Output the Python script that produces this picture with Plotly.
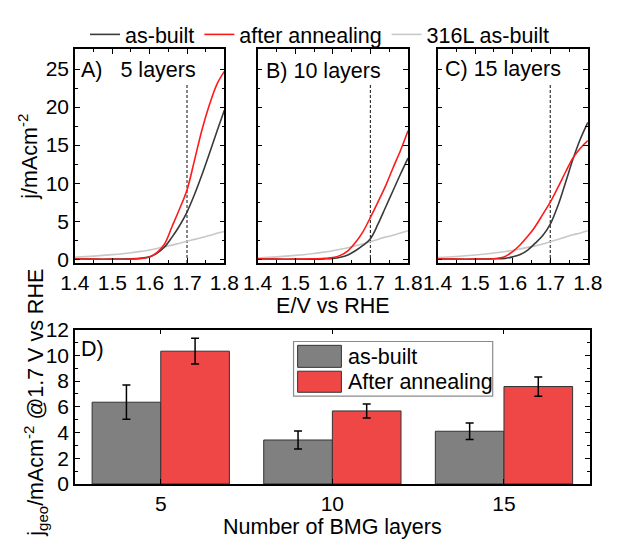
import plotly.graph_objects as go

# ---------------- data ----------------
V = [1.40, 1.45, 1.50, 1.55, 1.58, 1.60, 1.62, 1.64, 1.66, 1.68, 1.70, 1.72, 1.74, 1.76, 1.78, 1.80]

A_asbuilt = [0.05, 0.0, 0.0, 0.05, 0.15, 0.3, 0.8, 1.6, 2.9, 4.4, 6.2, 8.5, 11.1, 13.9, 16.8, 19.6]
A_anneal  = [0.05, 0.0, 0.0, 0.0, 0.1, 0.3, 0.9, 2.0, 4.3, 6.6, 9.1, 13.0, 17.0, 20.3, 23.0, 24.7]
A_316L    = [0.25, 0.4, 0.6, 0.85, 1.05, 1.2, 1.4, 1.65, 1.85, 2.1, 2.35, 2.6, 2.85, 3.1, 3.4, 3.65]

B_asbuilt = [0.05, 0.0, 0.0, 0.0, 0.05, 0.1, 0.25, 0.55, 1.1, 1.8, 2.7, 4.6, 6.8, 9.0, 11.2, 13.3]
B_anneal  = [0.05, 0.0, 0.0, 0.05, 0.1, 0.2, 0.5, 1.1, 2.2, 3.6, 5.5, 7.5, 9.6, 12.0, 14.3, 16.9]
B_316L    = [0.15, 0.3, 0.5, 0.75, 0.95, 1.1, 1.3, 1.5, 1.75, 2.0, 2.3, 2.6, 2.9, 3.15, 3.45, 3.75]

C_asbuilt = [0.05, 0.0, 0.0, 0.05, 0.1, 0.3, 0.6, 1.2, 2.1, 3.1, 4.6, 7.0, 10.0, 13.1, 15.8, 18.0]
C_anneal  = [0.05, 0.0, 0.0, 0.05, 0.35, 1.0, 1.9, 3.0, 4.3, 5.9, 7.5, 9.4, 11.4, 13.3, 14.6, 15.6]
C_316L    = [0.2, 0.35, 0.55, 0.8, 1.0, 1.15, 1.35, 1.55, 1.75, 2.0, 2.3, 2.6, 2.9, 3.2, 3.45, 3.75]

panel_labels = ["A)&nbsp;&nbsp; 5 layers", "B) 10 layers", "C) 15 layers"]
ref_V = 1.7
ref_line_top = 23

layers = [5, 10, 15]
bar_asbuilt = [6.36, 3.42, 4.1]
bar_asbuilt_err = [1.33, 0.7, 0.65]
bar_anneal = [10.33, 5.68, 7.58]
bar_anneal_err = [1.0, 0.55, 0.75]

# ---------------- style ----------------
FONT = "Liberation Sans, Arial, sans-serif"
FS = 21.5    # titles / legend / labels
TFS = 21     # tick labels
W, H = 620, 546
BLACK_C = "#3a3a3a"
RED_C = "#ff1a1a"
GRAY_C = "#c8c8c8"
BAR_GRAY = "#808080"
BAR_RED = "#ef4646"

def px_x(p):
    return p / W

def px_y(p):
    return 1 - p / H

fig = go.Figure()

panels = [(A_asbuilt, A_anneal, A_316L), (B_asbuilt, B_anneal, B_316L), (C_asbuilt, C_anneal, C_316L)]
for i, (ab, an, ss) in enumerate(panels):
    xa = "x" if i == 0 else f"x{i+1}"
    ya = "y" if i == 0 else f"y{i+1}"
    fig.add_trace(go.Scatter(x=[ref_V, ref_V], y=[-0.5, ref_line_top], mode="lines",
                             line=dict(color="#333333", width=1.2, dash="3px,2px"),
                             showlegend=False, xaxis=xa, yaxis=ya, hoverinfo="skip"))
    fig.add_trace(go.Scatter(x=V, y=ss, mode="lines", line=dict(color=GRAY_C, width=1.6, shape="spline"),
                             name="316L as-built", showlegend=(i == 0), legendrank=3, xaxis=xa, yaxis=ya))
    fig.add_trace(go.Scatter(x=V, y=ab, mode="lines", line=dict(color=BLACK_C, width=1.6, shape="spline"),
                             name="as-built", showlegend=(i == 0), legendrank=1, xaxis=xa, yaxis=ya))
    fig.add_trace(go.Scatter(x=V, y=an, mode="lines", line=dict(color=RED_C, width=1.6, shape="spline"),
                             name="after annealing", showlegend=(i == 0), legendrank=2, xaxis=xa, yaxis=ya))

# bars
fig.add_trace(go.Bar(x=layers, y=bar_asbuilt, width=2, offset=-2, marker=dict(color=BAR_GRAY, line=dict(color="#333333", width=1)),
                     error_y=dict(type="data", array=bar_asbuilt_err, color="black", thickness=1.5, width=4),
                     name="as-built", showlegend=False, xaxis="x4", yaxis="y4"))
fig.add_trace(go.Bar(x=layers, y=bar_anneal, width=2, offset=0, marker=dict(color=BAR_RED, line=dict(color="#333333", width=1)),
                     error_y=dict(type="data", array=bar_anneal_err, color="black", thickness=1.5, width=4),
                     name="After annealing", showlegend=False, xaxis="x4", yaxis="y4"))

common_axis = dict(showline=True, linecolor="black", linewidth=1.5, mirror="allticks",
                   ticks="inside", ticklen=5, tickwidth=1.2, tickcolor="black",
                   showgrid=False, zeroline=False,
                   tickfont=dict(family=FONT, size=TFS, color="black"))

top_dom_y = [px_y(262), px_y(39)]
x_doms = [[px_x(63), px_x(220)], [px_x(255), px_x(413)], [px_x(444), px_x(602)]]
layout = dict(
    width=W, height=H, margin=dict(l=0, r=0, t=0, b=0),
    paper_bgcolor="white", plot_bgcolor="white",
    font=dict(family=FONT, size=FS, color="black"),
    barmode="overlay",
    legend=dict(orientation="h", x=px_x(320), xanchor="center", y=px_y(2), yanchor="top",
                font=dict(family=FONT, size=FS), itemwidth=30, bgcolor="rgba(0,0,0,0)",
                tracegroupgap=0, traceorder="normal"),
)
for i in range(3):
    xk = "xaxis" if i == 0 else f"xaxis{i+1}"
    yk = "yaxis" if i == 0 else f"yaxis{i+1}"
    ya = "y" if i == 0 else f"y{i+1}"
    xa = "x" if i == 0 else f"x{i+1}"
    layout[xk] = dict(common_axis, domain=x_doms[i], range=[1.4, 1.8], tickvals=[1.4, 1.5, 1.6, 1.7, 1.8],
                      ticktext=["1.4", "1.5", "1.6", "1.7", "1.8"],
                      minor=dict(dtick=0.05, tick0=1.4, ticks="inside", ticklen=3, tickcolor="black"),
                      anchor=ya)
    layout[yk] = dict(common_axis, domain=top_dom_y, range=[-0.5, 27.6], dtick=5, tick0=0,
                      showticklabels=(i == 0),
                      minor=dict(dtick=2.5, tick0=0, ticks="inside", ticklen=3, tickcolor="black"),
                      anchor=xa)
layout["yaxis"]["title"] = dict(text="j/mAcm<sup>-2</sup>", font=dict(family=FONT, size=FS), standoff=2)
layout["xaxis2"]["title"] = dict(text="E/V vs RHE", font=dict(family=FONT, size=FS), standoff=2)

layout["xaxis4"] = dict(common_axis, domain=[px_x(63), px_x(604)], range=[2.5, 17.5],
                        tickvals=layers, ticktext=[str(v) for v in layers], anchor="y4",
                        title=dict(text="Number of BMG layers", font=dict(family=FONT, size=FS), standoff=2))
layout["yaxis4"] = dict(common_axis, domain=[px_y(492.7), px_y(331.7)], range=[0, 12], dtick=2,
                        minor=dict(dtick=1, ticks="inside", ticklen=3, tickcolor="black"), anchor="x4")
fig.update_layout(**layout)

# panel labels
ann_pos = [(67, 61), (262, 62), (450, 59)]
for (xp, yp), t in zip(ann_pos, panel_labels):
    fig.add_annotation(x=px_x(xp), y=px_y(yp), xref="paper", yref="paper", text=t, showarrow=False,
                       xanchor="left", yanchor="middle", font=dict(family=FONT, size=FS))
fig.add_annotation(x=px_x(67), y=px_y(352), xref="paper", yref="paper", text="D)", showarrow=False,
                   xanchor="left", yanchor="middle", font=dict(family=FONT, size=FS))

# bottom y title
fig.add_annotation(x=px_x(22), y=px_y(408), xref="paper", yref="paper",
                   text="j<sub>geo</sub>/mAcm<sup>-2</sup> @1.7 V vs RHE", textangle=-90,
                   showarrow=False, xanchor="center", yanchor="middle", font=dict(family=FONT, size=FS))

# bar legend box (styled to mimic the original large swatches)
shapes = [
    dict(type="rect", xref="paper", yref="paper", x0=px_x(292.7), x1=px_x(502), y0=px_y(401), y1=px_y(344),
         line=dict(color="#8a8a8a", width=1.2), fillcolor="white"),
    dict(type="rect", xref="paper", yref="paper", x0=px_x(297), x1=px_x(343), y0=px_y(371), y1=px_y(348),
         line=dict(color="#333333", width=1), fillcolor=BAR_GRAY),
    dict(type="rect", xref="paper", yref="paper", x0=px_x(297), x1=px_x(343), y0=px_y(397), y1=px_y(375),
         line=dict(color="#333333", width=1), fillcolor=BAR_RED),
]
fig.update_layout(shapes=shapes)
fig.add_annotation(x=px_x(348), y=px_y(360), xref="paper", yref="paper", text="as-built", showarrow=False,
                   xanchor="left", yanchor="middle", font=dict(family=FONT, size=FS))
fig.add_annotation(x=px_x(348), y=px_y(386), xref="paper", yref="paper", text="After annealing", showarrow=False,
                   xanchor="left", yanchor="middle", font=dict(family=FONT, size=FS))

fig.write_html("out.html")
